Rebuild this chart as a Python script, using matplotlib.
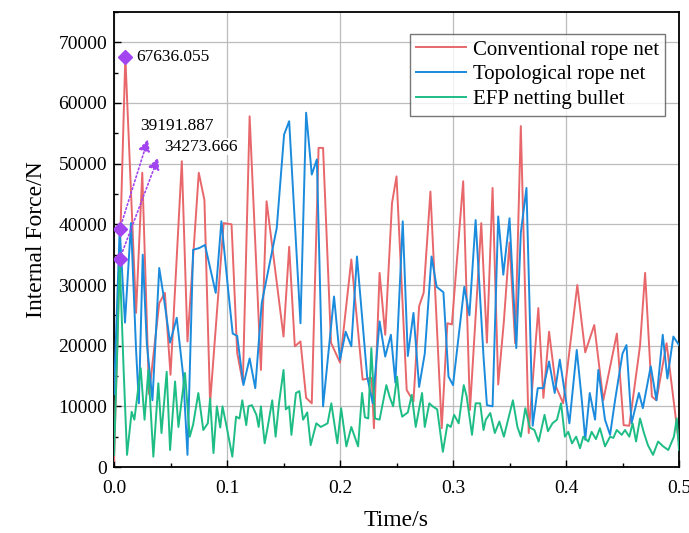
import matplotlib
matplotlib.use("Agg")
import matplotlib.pyplot as plt
from matplotlib.ticker import MultipleLocator

plt.rcParams['font.family'] = ['Liberation Serif', 'DejaVu Serif']
plt.rcParams['mathtext.fontset'] = 'stix'

# ---------------- data ----------------
conv_t = [0.000, 0.010, 0.0195, 0.025, 0.031, 0.040, 0.045, 0.050, 0.060, 0.065,
          0.075, 0.080, 0.085, 0.097, 0.104, 0.109, 0.114, 0.120, 0.130, 0.135,
          0.150, 0.155, 0.160, 0.165, 0.170, 0.175, 0.181, 0.185, 0.192, 0.200,
          0.210, 0.220, 0.228, 0.230, 0.235, 0.240, 0.246, 0.250, 0.259, 0.265,
          0.270, 0.274, 0.280, 0.290, 0.295, 0.299, 0.309, 0.315, 0.325, 0.330,
          0.335, 0.340, 0.345, 0.350, 0.355, 0.360, 0.367, 0.3755, 0.380, 0.385,
          0.391, 0.3975, 0.410, 0.417, 0.425, 0.433, 0.445, 0.451, 0.456, 0.4655,
          0.470, 0.476, 0.480, 0.489, 0.4995]
conv_v = [1000, 67636, 25400, 48500, 12000, 27000, 28700, 15200, 50400, 20700,
          48500, 44000, 10500, 40200, 40000, 18800, 13900, 57800, 16000, 43800,
          21500, 36300, 19900, 20700, 11400, 10500, 52600, 52600, 20500, 17200,
          34200, 14400, 14700, 6400, 32000, 21800, 43500, 47900, 12700, 10800,
          26500, 28700, 45400, 6400, 23700, 23500, 47100, 9400, 40200, 20500,
          46000, 13600, 24000, 37000, 20400, 56200, 5600, 26200, 11400, 22300,
          13300, 10500, 30000, 18900, 23400, 11000, 22000, 6900, 6800, 20000,
          32000, 11600, 11000, 20400, 4500]

topo_t = [0.000, 0.005, 0.0097, 0.015, 0.0195, 0.022, 0.0254, 0.029, 0.034, 0.040,
          0.044, 0.0496, 0.0555, 0.0613, 0.065, 0.070, 0.0755, 0.0805, 0.090, 0.095,
          0.101, 0.105, 0.109, 0.1145, 0.120, 0.125, 0.1307, 0.144, 0.1505, 0.155,
          0.165, 0.170, 0.175, 0.1795, 0.185, 0.1947, 0.200, 0.205, 0.210, 0.215,
          0.224, 0.229, 0.235, 0.240, 0.245, 0.249, 0.2555, 0.260, 0.265, 0.270,
          0.275, 0.281, 0.2855, 0.2915, 0.296, 0.300, 0.310, 0.3145, 0.320, 0.327,
          0.330, 0.335, 0.340, 0.3445, 0.350, 0.356, 0.360, 0.365, 0.3705, 0.375,
          0.380, 0.385, 0.390, 0.3945, 0.403, 0.4095, 0.414, 0.417, 0.421, 0.4257,
          0.4286, 0.4345, 0.439, 0.4434, 0.450, 0.4535, 0.458, 0.4645, 0.468, 0.475,
          0.480, 0.4856, 0.4897, 0.495, 0.500]
topo_v = [12000, 39192, 23800, 40200, 19300, 10500, 35000, 20400, 11000, 32800,
          28000, 20500, 24600, 14900, 2000, 35800, 36100, 36600, 28700, 40500,
          29200, 22000, 21600, 13500, 17900, 13000, 27000, 39400, 54800, 57000,
          23700, 58400, 48200, 50700, 10000, 28100, 17700, 22300, 19900, 34700,
          14900, 10500, 24000, 18200, 21800, 13900, 40500, 18300, 25400, 13200,
          18700, 34700, 29700, 28800, 14900, 13500, 29700, 25000, 40700, 18200,
          10200, 10000, 41300, 31700, 41000, 19600, 38600, 46000, 6800, 13000,
          13000, 17400, 12200, 17700, 7200, 19300, 11000, 4500, 12200, 7800,
          16000, 7800, 5300, 11000, 18700, 20100, 7200, 12200, 9700, 16600,
          11000, 21800, 14600, 21500, 20100]

efp_t = [0.000, 0.003, 0.005, 0.0085, 0.0115, 0.0156, 0.018, 0.0236, 0.027, 0.0304,
         0.0348, 0.0392, 0.042, 0.0466, 0.0496, 0.054, 0.057, 0.0628, 0.067, 0.070,
         0.0746, 0.079, 0.083, 0.085, 0.088, 0.091, 0.094, 0.096, 0.0997, 0.1047,
         0.108, 0.111, 0.1135, 0.117, 0.119, 0.122, 0.126, 0.128, 0.130, 0.1333,
         0.136, 0.140, 0.143, 0.146, 0.150, 0.152, 0.155, 0.157, 0.161, 0.164,
         0.1673, 0.171, 0.174, 0.179, 0.183, 0.189, 0.1923, 0.1976, 0.201, 0.2056,
         0.210, 0.216, 0.2195, 0.222, 0.225, 0.2277, 0.231, 0.235, 0.241, 0.244,
         0.247, 0.2505, 0.253, 0.255, 0.260, 0.2635, 0.267, 0.2726, 0.275, 0.279,
         0.282, 0.286, 0.291, 0.295, 0.298, 0.301, 0.305, 0.3095, 0.312, 0.3168,
         0.320, 0.324, 0.327, 0.329, 0.333, 0.337, 0.341, 0.345, 0.353, 0.357,
         0.360, 0.364, 0.368, 0.372, 0.3758, 0.381, 0.384, 0.388, 0.392, 0.3956,
         0.399, 0.402, 0.4053, 0.409, 0.4124, 0.4153, 0.4197, 0.4227, 0.4265, 0.430,
         0.4345, 0.439, 0.4419, 0.4449, 0.4493, 0.4522, 0.456, 0.459, 0.462, 0.4655,
         0.469, 0.4725, 0.477, 0.4815, 0.486, 0.4905, 0.4955, 0.498, 0.500]
efp_v = [2000, 20000, 34274, 16000, 2000, 9100, 7800, 16300, 7800, 16000,
         1700, 13800, 5600, 15700, 2800, 14100, 6600, 15500, 5000, 7000,
         12200, 6100, 7200, 11300, 2300, 10000, 6500, 10000, 6600, 1700,
         8300, 8000, 11000, 6900, 10000, 10200, 8600, 6600, 10000, 3900,
         6600, 11000, 5000, 10500, 16000, 9500, 10000, 5300, 12200, 12500,
         7800, 9000, 3600, 7200, 6600, 7200, 10500, 3900, 9700, 3400,
         6600, 3400, 12200, 8200, 8000, 19600, 8000, 7800, 13500, 11500,
         10000, 14900, 10000, 8300, 9000, 11900, 6600, 12200, 6600, 10500,
         10000, 9500, 2500, 7000, 6600, 8600, 7200, 13500, 11700, 5300,
         10500, 10500, 6100, 7800, 8900, 5600, 7500, 5000, 11000, 6600,
         5000, 9700, 6500, 6100, 4200, 8600, 5900, 7200, 7800, 10500,
         5000, 5800, 3900, 5000, 3100, 5000, 4200, 5800, 4600, 6400,
         3400, 5000, 4800, 6100, 5300, 6100, 5000, 7200, 4200, 8000,
         5600, 3600, 2000, 4200, 3400, 2800, 5000, 8000, 2800]

series_labels = ["Conventional rope net", "Topological rope net", "EFP netting bullet"]
series_colors = ["#E8676B", "#1B8BDD", "#1EBD85"]

# annotated points
ann_t = [0.010, 0.005, 0.005]
ann_v = [67636.055, 39191.887, 34273.666]
ann_text = ["67636.055", "39191.887", "34273.666"]
# arrow heads / text anchors (data coords)
arrow_head_t = [None, 0.030, 0.039]
arrow_head_v = [None, 54000, 51000]
text_t = [0.020, 0.023, 0.044]
text_v = [67636, 56200, 52800]

x_ticks = [0.0, 0.1, 0.2, 0.3, 0.4, 0.5]
y_ticks = [0, 10000, 20000, 30000, 40000, 50000, 60000, 70000]

# ---------------- figure ----------------
fig = plt.figure(figsize=(6.89, 5.33), dpi=100)
ax = fig.add_axes([0.1655, 0.1238, 0.82, 0.8537])

ax.grid(True, color="#bcbcbc", linewidth=0.9, zorder=0)
ax.set_axisbelow(True)

for tt, vv, lab, col in zip([conv_t, topo_t, efp_t], [conv_v, topo_v, efp_v],
                            series_labels, series_colors):
    ax.plot(tt, vv, color=col, linewidth=1.4, label=lab, zorder=3)

purple = "#A245F0"
ax.plot(ann_t, ann_v, linestyle="none", marker="D", markersize=7.5,
        color=purple, zorder=5)
for i in range(3):
    if arrow_head_t[i] is not None:
        ax.annotate("", xy=(arrow_head_t[i], arrow_head_v[i]),
                    xytext=(ann_t[i], ann_v[i]),
                    arrowprops=dict(arrowstyle="-|>,head_length=0.7,head_width=0.35",
                                    linestyle=(0, (1, 1.5)), color=purple,
                                    lw=1.2, shrinkA=0, shrinkB=0),
                    zorder=5)
    ax.text(text_t[i], text_v[i], ann_text[i], fontsize=12.5, ha="left",
            va="center", zorder=6,
            bbox=dict(facecolor="white", edgecolor="none", pad=0.5, alpha=0.9))

ax.set_xlim(0, 0.5)
ax.set_ylim(0, 75000)
ax.set_xticks(x_ticks)
ax.set_yticks(y_ticks)
ax.set_xticklabels([f"{v:.1f}" for v in x_ticks])
ax.set_yticklabels([str(v) for v in y_ticks])
ax.xaxis.set_minor_locator(MultipleLocator(0.05))
ax.yaxis.set_minor_locator(MultipleLocator(5000))
ax.tick_params(which="both", direction="in", top=False, right=False,
               labelsize=14, width=1.0)
ax.tick_params(which="major", length=5)
ax.tick_params(which="minor", length=3)
ax.tick_params(axis="x", which="major", pad=9)
ax.tick_params(axis="y", which="major", pad=5)
for s in ax.spines.values():
    s.set_linewidth(1.3)
    s.set_color("black")

ax.set_xlabel("Time/s", fontsize=17, labelpad=10)
ax.set_ylabel("Internal Force/N", fontsize=17, labelpad=8)

leg = ax.legend(loc="upper right", bbox_to_anchor=(0.975, 0.952), fontsize=15,
                frameon=True, fancybox=False, edgecolor="#555555",
                handlelength=2.4, labelspacing=0.25, borderpad=0.3,
                handletextpad=0.3, borderaxespad=0)
leg.get_frame().set_linewidth(1.0)
leg.set_zorder(10)

fig.savefig("out.png", dpi=100)
